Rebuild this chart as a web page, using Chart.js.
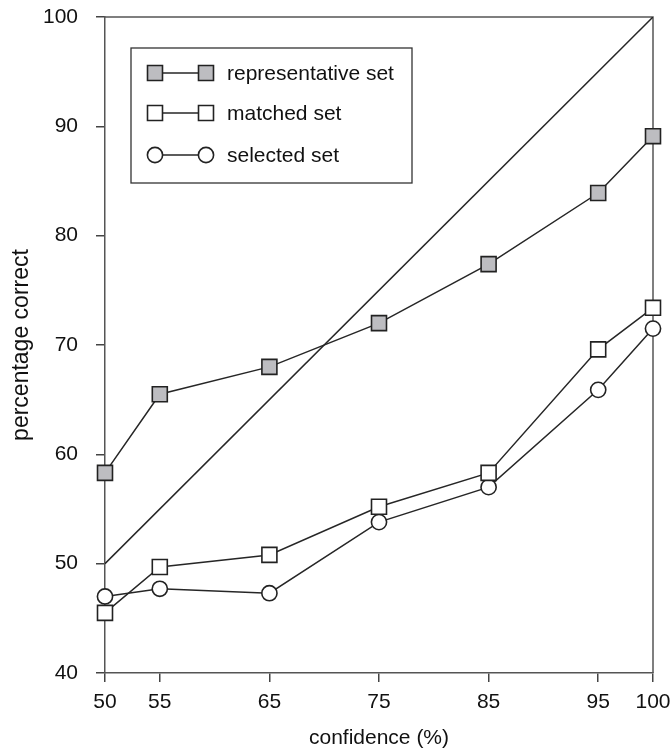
<!DOCTYPE html>
<html>
<head>
<meta charset="utf-8">
<script src="https://cdn.jsdelivr.net/npm/chart.js@4.4.1/dist/chart.umd.min.js"></script>
<style>
  html, body { margin: 0; padding: 0; background: #fff; }
  #wrap { width: 670px; height: 751px; }
</style>
</head>
<body>
<div id="wrap"><canvas id="myChart" width="670" height="751"></canvas></div>
<script>
// confidence levels (x) and percentage correct (y)
const confianza = [50, 55, 65, 75, 85, 95, 100]
const representativo = [58.3, 65.5, 68.0, 72.0, 77.4, 83.9, 89.1]
const emparejado = [45.5, 49.7, 50.8, 55.2, 58.3, 69.6, 73.4]
const seleccionado = [47.0, 47.7, 47.3, 53.8, 57.0, 65.9, 71.5]
const diagonal_x = [50, 100]
const diagonal_y = [50, 100]
const ticks_x = [50, 55, 65, 75, 85, 95, 100]
const ticks_y = [40, 50, 60, 70, 80, 90, 100]

const colorLinea = "#262626"
const fuente = "'Liberation Sans', Arial, sans-serif"

function puntos(xs, ys){
    return xs.map((x, i) => ({ x: x, y: ys[i] }))
}

// frame on top and right side of the plot
const marco = {
    id: "marco",
    beforeDatasetsDraw(chart){
        const a = chart.chartArea
        const ctx = chart.ctx
        ctx.save()
        ctx.strokeStyle = "#555"
        ctx.lineWidth = 1.5
        ctx.beginPath()
        ctx.moveTo(a.left, a.top)
        ctx.lineTo(a.right, a.top)
        ctx.lineTo(a.right, a.bottom)
        ctx.stroke()
        ctx.restore()
    }
}

// legend box: marker - line - marker + label
const leyenda = {
    id: "leyenda",
    afterDraw(chart){
        const ctx = chart.ctx
        const caja = { x: 131, y: 48, w: 281, h: 135 }
        ctx.save()
        ctx.fillStyle = "#fff"
        ctx.fillRect(caja.x, caja.y, caja.w, caja.h)
        ctx.strokeStyle = "#333"
        ctx.lineWidth = 1.3
        ctx.strokeRect(caja.x, caja.y, caja.w, caja.h)
        const filas = [73, 113, 155]
        chart.data.datasets.forEach((ds, i) => {
            if (ds.label == "") return
            const y = filas[i]
            const x1 = 155, x2 = 206
            ctx.strokeStyle = ds.borderColor
            ctx.lineWidth = 1.5
            ctx.beginPath()
            ctx.moveTo(x1, y)
            ctx.lineTo(x2, y)
            ctx.stroke()
            const opts = {
                pointStyle: ds.pointStyle,
                radius: ds.pointRadius,
                borderWidth: ds.pointBorderWidth,
                rotation: 0
            }
            ctx.fillStyle = ds.pointBackgroundColor
            ctx.strokeStyle = ds.pointBorderColor
            ctx.lineWidth = ds.pointBorderWidth
            Chart.helpers.drawPoint(ctx, opts, x1, y)
            Chart.helpers.drawPoint(ctx, opts, x2, y)
            ctx.fillStyle = "#111"
            ctx.font = "21px " + fuente
            ctx.textBaseline = "middle"
            ctx.textAlign = "left"
            ctx.fillText(ds.label, 227, y + 1)
        })
        ctx.restore()
    }
}

const config = {
    type: "line",
    data: {
        datasets: [
            {
                label: "representative set",
                data: puntos(confianza, representativo),
                borderColor: colorLinea,
                borderWidth: 1.5,
                pointStyle: "rect",
                pointRadius: 10.6,
                pointBorderWidth: 1.6,
                pointBackgroundColor: "#bdbdc1",
                pointBorderColor: "#222",
                clip: false,
                order: 1
            },
            {
                label: "matched set",
                data: puntos(confianza, emparejado),
                borderColor: colorLinea,
                borderWidth: 1.5,
                pointStyle: "rect",
                pointRadius: 10.6,
                pointBorderWidth: 1.6,
                pointBackgroundColor: "#fff",
                pointBorderColor: "#222",
                clip: false,
                order: 2
            },
            {
                label: "selected set",
                data: puntos(confianza, seleccionado),
                borderColor: colorLinea,
                borderWidth: 1.5,
                pointStyle: "circle",
                pointRadius: 7.6,
                pointBorderWidth: 1.6,
                pointBackgroundColor: "#fff",
                pointBorderColor: "#222",
                clip: false,
                order: 3
            },
            {
                label: "",
                data: puntos(diagonal_x, diagonal_y),
                borderColor: colorLinea,
                borderWidth: 1.5,
                pointRadius: 0,
                order: 10
            }
        ]
    },
    options: {
        responsive: false,
        animation: false,
        layout: { padding: { left: 0, right: 17, top: 17, bottom: 0 } },
        plugins: {
            legend: { display: false },
            tooltip: { enabled: false }
        },
        scales: {
            x: {
                type: "linear",
                min: 50,
                max: 100,
                afterBuildTicks: (scale) => { scale.ticks = ticks_x.map(v => ({ value: v })) },
                afterFit: (scale) => {
                    scale.height = 78
                    scale.paddingLeft = 0
                    scale.paddingRight = 0
                },
                grid: { drawOnChartArea: false, drawTicks: true, tickLength: 9, color: "#444", lineWidth: 1.5 },
                border: { display: true, color: "#555", width: 1.5 },
                ticks: { color: "#111", font: { family: fuente, size: 21 }, padding: 8, maxRotation: 0, autoSkip: false },
                title: { display: true, text: "confidence (%)", color: "#111", font: { family: fuente, size: 21 }, padding: { top: 0, bottom: 0 } }
            },
            y: {
                type: "linear",
                min: 40,
                max: 100,
                afterBuildTicks: (scale) => { scale.ticks = ticks_y.map(v => ({ value: v })) },
                afterFit: (scale) => {
                    scale.width = 105
                    scale.paddingTop = 0
                    scale.paddingBottom = 0
                },
                grid: { drawOnChartArea: false, drawTicks: true, tickLength: 9, color: "#444", lineWidth: 1.5 },
                border: { display: true, color: "#555", width: 1.5 },
                ticks: { color: "#111", font: { family: fuente, size: 21 }, padding: 18 },
                title: { display: true, text: "percentage correct", color: "#111", font: { family: fuente, size: 23 }, padding: { top: 8, bottom: 0 } }
            }
        }
    },
    plugins: [marco, leyenda]
}

const chartDOM = document.getElementById("myChart")
window.grafica = new Chart(chartDOM, config)
</script>
</body>
</html>
